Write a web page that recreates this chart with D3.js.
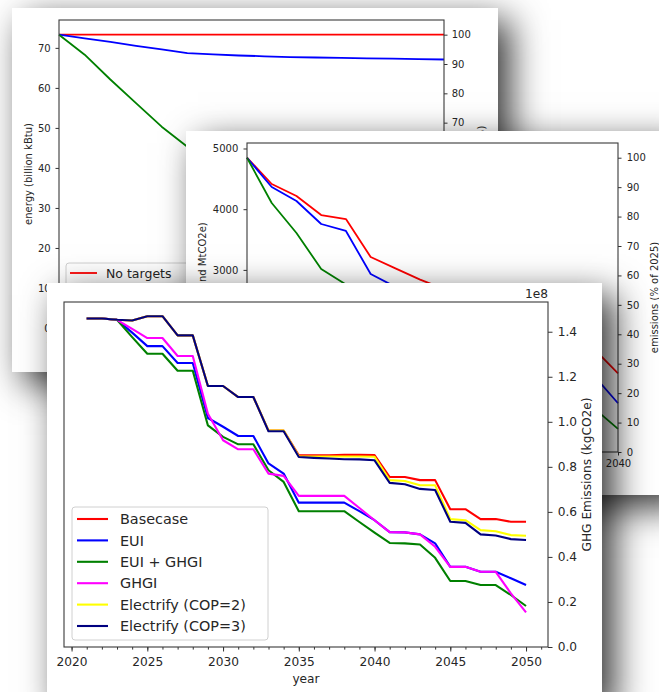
<!DOCTYPE html>
<html><head><meta charset="utf-8">
<script src="https://cdn.jsdelivr.net/npm/d3@7"></script>
<style>
html,body{margin:0;padding:0;background:#fff;}
body{width:659px;height:692px;overflow:hidden;position:relative;font-family:"DejaVu Sans",sans-serif;}
.card{position:absolute;background:#fff;box-shadow:12px 12px 34px rgba(0,0,0,0.8);}
.card svg{display:block;overflow:hidden;}
</style></head><body>
<div id="p1" class="card"></div>
<div id="p2" class="card"></div>
<div id="p3" class="card"></div>
<script>
// ---------- DATA ----------
// Panels 1 & 2 (years)
const yearsA = [2025,2026,2027,2028,2029,2030,2031,2032,2033,2034,2035,2036,2037,2038,2039,2040];
// Panel 1: energy (billion kBtu)
const energyNoTargets = [73.3,73.3,73.3,73.3,73.3,73.3,73.3,73.3,73.3,73.3,73.3,73.3,73.3,73.3,73.3,73.3];
const energyEUI       = [73.3,72.4,71.5,70.5,69.6,68.7,68.4,68.1,67.9,67.7,67.6,67.5,67.4,67.3,67.2,67.1];
const energyEUIGHGI   = [73.3,68.3,62.1,56.2,50.3,45.3,41.2,37.3,33.5,30.0,26.8,23.8,21.0,18.4,16.0,13.8];
const legend1 = ["No targets","EUI targets","EUI + GHGI targets"];
// Panel 2: emissions (thousand MtCO2e)
const emisNoTargets = [4848,4415,4217,3904,3838,3212,3025,2840,2680,2530,2380,2230,2080,1910,1710,1297];
const emisEUI       = [4848,4366,4135,3756,3641,2932,2720,2530,2360,2190,2010,1830,1650,1460,1270,803];
const emisEUIGHGI   = [4848,4102,3608,3015,2758,2400,2150,1950,1750,1570,1400,1230,1080,940,732,382];
// Panel 3: GHG emissions (units of 1e8 kgCO2e)
const yearsB = [2021,2022,2023,2024,2025,2026,2027,2028,2029,2030,2031,2032,2033,2034,2035,2036,2037,2038,2039,2040,2041,2042,2043,2044,2045,2046,2047,2048,2049,2050];
const ghgBasecase = [1.459,1.459,1.453,1.450,1.469,1.469,1.384,1.384,1.159,1.159,1.110,1.110,0.961,0.961,0.851,0.851,0.851,0.853,0.853,0.852,0.755,0.755,0.741,0.741,0.612,0.612,0.568,0.568,0.556,0.556];
const ghgEUI      = [1.459,1.459,1.453,1.396,1.336,1.336,1.261,1.261,1.017,0.978,0.937,0.937,0.815,0.770,0.641,0.641,0.641,0.641,0.603,0.563,0.510,0.509,0.500,0.460,0.356,0.356,0.334,0.334,0.305,0.275];
const ghgEUIGHGI  = [1.459,1.459,1.453,1.376,1.302,1.302,1.227,1.227,0.984,0.933,0.900,0.900,0.785,0.733,0.603,0.603,0.603,0.603,0.555,0.508,0.462,0.460,0.455,0.396,0.293,0.293,0.275,0.275,0.231,0.182];
const ghgGHGI     = [1.459,1.459,1.453,1.413,1.372,1.372,1.292,1.292,1.036,0.918,0.878,0.878,0.770,0.760,0.671,0.671,0.671,0.671,0.617,0.563,0.510,0.509,0.500,0.445,0.356,0.356,0.334,0.334,0.238,0.154];
const ghgCOP2     = [1.459,1.459,1.453,1.450,1.469,1.469,1.384,1.384,1.159,1.159,1.110,1.110,0.961,0.961,0.847,0.846,0.846,0.846,0.846,0.845,0.741,0.737,0.718,0.718,0.568,0.563,0.519,0.514,0.497,0.494];
const ghgCOP3     = [1.459,1.459,1.453,1.450,1.469,1.469,1.384,1.384,1.159,1.159,1.110,1.110,0.958,0.958,0.844,0.840,0.837,0.834,0.833,0.829,0.729,0.723,0.702,0.697,0.556,0.551,0.500,0.495,0.479,0.475];
const legend3 = ["Basecase","EUI","EUI + GHGI","GHGI","Electrify (COP=2)","Electrify (COP=3)"];
// tick labels
const ticksE = [0,10,20,30,40,50,60,70];
const ticksPct = [0,10,20,30,40,50,60,70,80,90,100];
const ticksEm = [0,1000,2000,3000,4000,5000];
const ticksYearA = [2025,2030,2035,2040];
const ticksYearB = [2020,2025,2030,2035,2040,2045,2050];
const minorYearB = [2020,2021,2022,2023,2024,2025,2026,2027,2028,2029,2030,2031,2032,2033,2034,2035,2036,2037,2038,2039,2040,2041,2042,2043,2044,2045,2046,2047,2048,2049,2050,2051];
const ticksGHG = [0,0.2,0.4,0.6,0.8,1.0,1.2,1.4];

// ---------- HELPERS ----------
const FONT = '"DejaVu Sans", sans-serif';
const TXT = "#262626";
function card(id, x, y, w, h){
  const div = d3.select("#"+id).style("left",x+"px").style("top",y+"px").style("width",w+"px").style("height",h+"px");
  const svg = div.append("svg").attr("width",w).attr("height",h);
  return svg.append("g").attr("transform",`translate(${-x},${-y})`);
}
function styleAxis(sel, fs){
  sel.select(".domain").remove();
  sel.attr("font-family",FONT).attr("font-size",fs);
  sel.selectAll(".tick line").attr("stroke","#333").attr("stroke-width",1);
  sel.selectAll(".tick text").attr("fill",TXT);
}
function spines(g, x0, x1, y0, y1){
  g.append("rect").attr("x",x0).attr("y",y0).attr("width",x1-x0).attr("height",y1-y0)
    .attr("fill","none").attr("stroke","#3a3a3a").attr("stroke-width",1.1);
}
function vlabel(g, x, y, text, fs){
  g.append("text").attr("transform",`translate(${x},${y}) rotate(-90)`)
   .attr("text-anchor","middle").attr("dy","0.35em").attr("font-family",FONT)
   .attr("font-size",fs).attr("fill",TXT).text(text);
}
function drawLine(g, xs, ys, xvals, yvals, color, w){
  const line = d3.line().x((d,i)=>xs(xvals[i])).y(d=>ys(d));
  g.append("path").datum(yvals).attr("d",line).attr("fill","none")
   .attr("stroke",color).attr("stroke-width",w).attr("stroke-linejoin","round");
}

// ---------- PANEL 1 ----------
(function(){
  const g = card("p1", 12, 8, 486, 364);
  const L=59, R=444, T=20, B=328;
  const x = d3.scaleLinear().domain([yearsA[0], yearsA[yearsA.length-1]]).range([L,R]);
  const base = energyNoTargets[0];
  const y = d3.scaleLinear().domain([0, base*1.05]).range([B,T]);
  const yr = d3.scaleLinear().domain([0,105]).range([B,T]);
  const series = [[energyNoTargets,"red"],[energyEUI,"blue"],[energyEUIGHGI,"green"]];
  series.forEach(s=>drawLine(g,x,y,yearsA,s[0],s[1],1.8));
  const ax = g.append("g").attr("transform",`translate(${L},0)`).call(d3.axisLeft(y).tickValues(ticksE).tickFormat(d3.format("d")).tickSize(3.5).tickPadding(4.8).tickSizeOuter(0));
  styleAxis(ax,10);
  const axr = g.append("g").attr("transform",`translate(${R},0)`).call(d3.axisRight(yr).tickValues(ticksPct).tickFormat(d3.format("d")).tickSize(3.5).tickPadding(4.2).tickSizeOuter(0));
  styleAxis(axr,10);
  const axb = g.append("g").attr("transform",`translate(0,${B})`).call(d3.axisBottom(x).tickValues(ticksYearA).tickFormat(d3.format("d")).tickSize(3.5).tickPadding(4).tickSizeOuter(0));
  styleAxis(axb,10);
  spines(g,L,R,T,B);
  vlabel(g,28,(T+B)/2,"energy (billion kBtu)",10);
  vlabel(g,481,(T+B)/2,"energy (% of 2025)",10);
  // legend
  const lg = g.append("g");
  lg.append("rect").attr("x",66).attr("y",263).attr("width",170).attr("height",56).attr("rx",3)
    .attr("fill","#fff").attr("fill-opacity",0.8).attr("stroke","#d0d0d0");
  legend1.forEach((t,i)=>{
    const yy = 273 + i*17;
    lg.append("line").attr("x1",70).attr("x2",97).attr("y1",yy).attr("y2",yy).attr("stroke",series[i][1]).attr("stroke-width",1.8);
    lg.append("text").attr("x",106).attr("y",yy).attr("dy","0.36em").attr("font-family",FONT).attr("font-size",12.5).attr("fill",TXT).text(t);
  });
})();

// ---------- PANEL 2 ----------
(function(){
  const g = card("p2", 186, 131, 490, 364);
  const L=247, R=618, T=143, B=452;
  const x = d3.scaleLinear().domain([yearsA[0], yearsA[yearsA.length-1]]).range([L,R]);
  const base = emisNoTargets[0];
  const y = d3.scaleLinear().domain([0, base*1.05]).range([B,T]);
  const yr = d3.scaleLinear().domain([0,105]).range([B,T]);
  const series = [[emisNoTargets,"red"],[emisEUI,"blue"],[emisEUIGHGI,"green"]];
  series.forEach(s=>drawLine(g,x,y,yearsA,s[0],s[1],1.8));
  const ax = g.append("g").attr("transform",`translate(${L},0)`).call(d3.axisLeft(y).tickValues(ticksEm).tickFormat(d3.format("d")).tickSize(3.5).tickPadding(5.2).tickSizeOuter(0));
  styleAxis(ax,10);
  const axr = g.append("g").attr("transform",`translate(${R},0)`).call(d3.axisRight(yr).tickValues(ticksPct).tickFormat(d3.format("d")).tickSize(3.5).tickPadding(5.2).tickSizeOuter(0));
  styleAxis(axr,10);
  const axb = g.append("g").attr("transform",`translate(0,${B})`).call(d3.axisBottom(x).tickValues(ticksYearA).tickFormat(d3.format("d")).tickSize(3.5).tickPadding(4.4).tickSizeOuter(0));
  styleAxis(axb,10);
  spines(g,L,R,T,B);
  vlabel(g,202,(T+B)/2,"emissions (thousand MtCO2e)",10);
  vlabel(g,654,(T+B)/2,"emissions (% of 2025)",10);
})();

// ---------- PANEL 3 ----------
(function(){
  const g = card("p3", 47, 283, 555, 420);
  const L=64, R=548, T=302, B=647;
  const x = d3.scaleLinear().domain([2019.5, 2051.45]).range([L,R]);
  const y = d3.scaleLinear().domain([0, 1.532]).range([B,T]);
  const series = [[ghgBasecase,"red"],[ghgEUI,"blue"],[ghgEUIGHGI,"green"],[ghgGHGI,"magenta"],[ghgCOP2,"yellow"],[ghgCOP3,"navy"]];
  series.forEach(s=>drawLine(g,x,y,yearsB,s[0],s[1],2.1));
  const axr = g.append("g").attr("transform",`translate(${R},0)`).call(d3.axisRight(y).tickValues(ticksGHG).tickFormat(d3.format(".1f")).tickSize(4.5).tickPadding(5.2).tickSizeOuter(0));
  styleAxis(axr,12.2);
  const axm = g.append("g").attr("transform",`translate(0,${B})`).call(d3.axisBottom(x).tickValues(minorYearB).tickFormat("").tickSize(2.6).tickSizeOuter(0));
  styleAxis(axm,12.2);
  const axb = g.append("g").attr("transform",`translate(0,${B})`).call(d3.axisBottom(x).tickValues(ticksYearB).tickFormat(d3.format("d")).tickSize(4.5).tickPadding(5.5).tickSizeOuter(0));
  styleAxis(axb,12.2);
  spines(g,L,R,T,B);
  g.append("text").attr("x",R).attr("y",297.5).attr("text-anchor","end").attr("font-family",FONT).attr("font-size",12.2).attr("fill",TXT).text("1e8");
  vlabel(g,587,(T+B)/2,"GHG Emissions (kgCO2e)",12.2);
  g.append("text").attr("x",(L+R)/2).attr("y",683).attr("text-anchor","middle").attr("font-family",FONT).attr("font-size",12.2).attr("fill",TXT).text("year");
  // legend
  const lg = g.append("g");
  lg.append("rect").attr("x",72).attr("y",507).attr("width",196).attr("height",133).attr("rx",3)
    .attr("fill","#fff").attr("fill-opacity",0.8).attr("stroke","#d0d0d0");
  legend3.forEach((t,i)=>{
    const yy = 519 + i*21.4;
    lg.append("line").attr("x1",77).attr("x2",108).attr("y1",yy).attr("y2",yy).attr("stroke",series[i][1]).attr("stroke-width",2.1);
    lg.append("text").attr("x",120).attr("y",yy).attr("dy","0.36em").attr("font-family",FONT).attr("font-size",14.4).attr("fill",TXT).text(t);
  });
})();
</script>
</body></html>
